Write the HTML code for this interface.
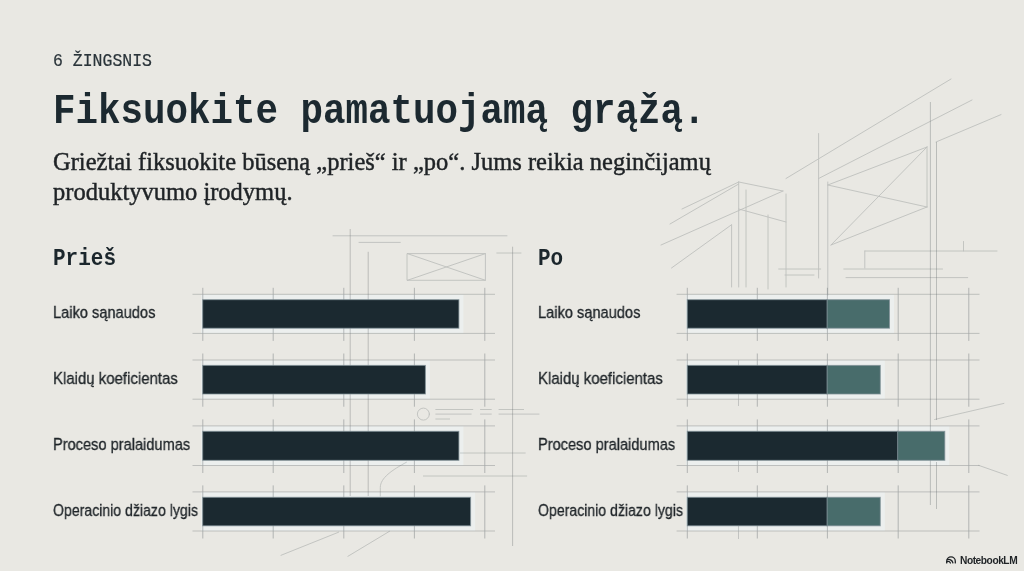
<!DOCTYPE html>
<html lang="lt">
<head>
<meta charset="utf-8">
<title>6 žingsnis</title>
<style>
  html, body { margin: 0; padding: 0; }
  body {
    width: 1024px; height: 571px; overflow: hidden; position: relative;
    background: #e9e8e3;
    font-family: "Liberation Sans", sans-serif;
    color: #1d2a31;
  }
  #bg { position: absolute; left: 0; top: 0; width: 1024px; height: 571px; }
  .t { position: absolute; white-space: nowrap; transform-origin: 0 0; line-height: 1; will-change: transform; }
  .step { left: 52.5px; top: 51.8px; font-family: "Liberation Mono", monospace; font-size: 16.5px; color: #2a343a; transform: scaleY(1.15); -webkit-text-stroke: 0.2px #2a343a; }
  .title { left: 53px; top: 90.7px; font-family: "Liberation Mono", monospace; font-weight: bold; font-size: 37.5px; color: #1c2930; transform: scaleY(1.13); }
  .para { left: 53px; font-family: "Liberation Serif", serif; font-size: 24.5px; color: #1f2326; transform: scaleY(1.04); -webkit-text-stroke: 0.45px #1f2326; }
  .p1 { top: 149.4px; }
  .p2 { top: 179.4px; }
  .h { font-family: "Liberation Mono", monospace; font-weight: bold; font-size: 21px; color: #1b262c; top: 246.6px; transform: scaleY(1.13); }
  .lab { font-family: "Liberation Sans", sans-serif; font-size: 16.8px; color: #20262a; -webkit-text-stroke: 0.3px #20262a; }
  .l1 { transform: scaleX(0.871); } .l2 { transform: scaleX(0.892); } .l3 { transform: scaleX(0.870); } .l4 { transform: scaleX(0.840); }
  .nb { left: 959.5px; top: 556.1px; font-family: "Liberation Sans", sans-serif; font-weight: bold; font-size: 10.2px; color: #1f2326; letter-spacing: -0.45px; }
</style>
</head>
<body>
<svg id="bg" viewBox="0 0 1024 571">
<g fill="#ecefee">
<rect x="201.2" y="294.7" width="262.2" height="38.5"/>
<rect x="201.2" y="360.4" width="228.7" height="38.6"/>
<rect x="201.2" y="426.3" width="262.2" height="39.0"/>
<rect x="201.2" y="492.3" width="273.9" height="38.5"/>
<rect x="685.8" y="294.7" width="208.2" height="38.5"/>
<rect x="685.8" y="360.4" width="199.0" height="38.6"/>
<rect x="685.8" y="426.3" width="263.5" height="39.0"/>
<rect x="685.8" y="492.3" width="199.0" height="38.5"/>
</g>
<g fill="none" stroke="#5e6669" stroke-width="0.8" opacity="0.5">
<path d="M192.5 294.3H495M192.5 333.4H495" opacity="0.8"/>
<path d="M202.8 287.8V340.9M273.2 287.8V340.9M343.8 287.8V340.9M414.4 287.8V340.9M484.8 287.8V340.9"/>
<path d="M192.5 360.0H495M192.5 399.2H495" opacity="0.8"/>
<path d="M202.8 353.5V406.7M273.2 353.5V406.7M343.8 353.5V406.7M414.4 353.5V406.7M484.8 353.5V406.7"/>
<path d="M192.5 425.9H495M192.5 465.5H495" opacity="0.8"/>
<path d="M202.8 419.4V473.0M273.2 419.4V473.0M343.8 419.4V473.0M414.4 419.4V473.0M484.8 419.4V473.0"/>
<path d="M192.5 491.9H495M192.5 531.0H495" opacity="0.8"/>
<path d="M202.8 485.4V538.5M273.2 485.4V538.5M343.8 485.4V538.5M414.4 485.4V538.5M484.8 485.4V538.5"/>
<path d="M676.6 294.3H979.5M676.6 333.4H979.5" opacity="0.8"/>
<path d="M687.3 287.8V340.9M757.3 287.8V340.9M827.4 287.8V340.9M898.2 287.8V340.9M968.8 287.8V340.9"/>
<path d="M676.6 360.0H979.5M676.6 399.2H979.5" opacity="0.8"/>
<path d="M687.3 353.5V406.7M757.3 353.5V406.7M827.4 353.5V406.7M898.2 353.5V406.7M968.8 353.5V406.7"/>
<path d="M676.6 425.9H979.5M676.6 465.5H979.5" opacity="0.8"/>
<path d="M687.3 419.4V473.0M757.3 419.4V473.0M827.4 419.4V473.0M898.2 419.4V473.0M968.8 419.4V473.0"/>
<path d="M676.6 491.9H979.5M676.6 531.0H979.5" opacity="0.8"/>
<path d="M687.3 485.4V538.5M757.3 485.4V538.5M827.4 485.4V538.5M898.2 485.4V538.5M968.8 485.4V538.5"/>
<path d="M738.5 360V366M738.5 394V406M738.5 460.5V472M738.5 526V539" opacity="0.7"/>
</g>
<g fill="none" stroke="#5e6669" stroke-width="0.9" stroke-linecap="round" opacity="0.3">
<path d="M786 178.5L951 79"/>
<path d="M818.6 178.5L972 100"/>
<path d="M936 142L1001 114.6"/>
<path d="M818.6 133.5L818.6 278"/>
<path d="M827.8 182L827.8 295"/>
<path d="M827.8 185L927 147"/>
<path d="M927 147L927 207"/>
<path d="M927 207L831 245"/>
<path d="M827.8 185L927 207"/>
<path d="M927 147L831 245"/>
<path d="M682 209L738.7 182"/>
<path d="M670 224L738.7 184"/>
<path d="M738.7 182L783 191"/>
<path d="M661 245L783 191"/>
<path d="M738.7 209L786 222"/>
<path d="M671.5 268L731.6 224.7"/>
<path d="M738.7 182L738.7 287"/>
<path d="M746 190L746 287"/>
<path d="M731.6 225L731.6 287"/>
<path d="M768 215L768 289"/>
<path d="M786 194L786 287"/>
<path d="M778.7 269L820.7 269"/>
<path d="M785 275L814 275"/>
<path d="M843.8 269L942.5 269"/>
<path d="M846 277.6L967.7 277.6"/>
<path d="M864.8 251L997 251"/>
<path d="M864.8 251L864.8 268"/>
<path d="M963.5 241.5L963.5 251"/>
<path d="M934.6 419.5L1003.9 403.4"/>
<path d="M978.8 465.4L1007.3 475.4"/>
<path d="M333 235.8L507 235.8"/>
<path d="M359 242.4L400.3 242.4"/>
<path d="M407.4 253.6H485.4V280.3H407.4ZM407.4 253.6L485.4 280.3M485.4 253.6L407.4 280.3"/>
<path d="M496.8 253L521 253"/>
<circle cx="423.4" cy="414.1" r="6"/>
<path d="M435.8 409.5H472.8M480.5 409.5H491.3M499 409.5H523.6M435.8 414.1H471.2M480.5 414.1H491.3M499 414.1H539M435.8 419H449.6"/>
<path d="M460.4 453L525.2 453"/>
<path d="M423.4 476L526.7 476"/>
<path d="M406.5 462.2C392 470 380.3 478 380.3 487.5V496"/>
<path d="M281 555.3L338.6 532.2"/>
<path d="M347.9 556.3L389.5 531.3"/>
</g>
<g fill="none" stroke="#5e6669" stroke-width="0.85" opacity="0.4">
<path d="M930.4 102V505M936.5 142V420M936.5 462V509M350.2 229V496M368.2 251.8V496M512.6 246.7V546"/>
</g>
<g stroke="#7f9097" stroke-width="1" stroke-opacity="0.75" style="filter:blur(0.35px)">
<rect x="202.7" y="299.7" width="256.2" height="28.5" fill="#1b2930"/>
<rect x="202.7" y="365.4" width="222.7" height="28.6" fill="#1b2930"/>
<rect x="202.7" y="431.3" width="256.2" height="29.0" fill="#1b2930"/>
<rect x="202.7" y="497.3" width="267.9" height="28.5" fill="#1b2930"/>
<rect x="827.0" y="299.7" width="62.5" height="28.5" fill="#486c6b"/>
<rect x="687.3" y="299.7" width="139.7" height="28.5" fill="#1b2930"/>
<rect x="827.0" y="365.4" width="53.3" height="28.6" fill="#486c6b"/>
<rect x="687.3" y="365.4" width="139.7" height="28.6" fill="#1b2930"/>
<rect x="897.6" y="431.3" width="47.2" height="29.0" fill="#486c6b"/>
<rect x="687.3" y="431.3" width="210.3" height="29.0" fill="#1b2930"/>
<rect x="827.0" y="497.3" width="53.3" height="28.5" fill="#486c6b"/>
<rect x="687.3" y="497.3" width="139.7" height="28.5" fill="#1b2930"/>
</g>
<g fill="none" stroke="#1f2326" stroke-width="1.3" stroke-linecap="round">
<path d="M946.7 562.9v-1.7a4.3 4.3 0 0 1 8.6 0v1.7"/>
<path d="M947.6 559.6a4.3 4.3 0 0 1 5.3 3.3"/>
<path d="M947.2 561.6a2.6 2.6 0 0 1 3.2 1.4"/>
</g>
</svg>

<div class="t step">6 ŽINGSNIS</div>
<div class="t title">Fiksuokite pamatuojamą grąžą.</div>
<div class="t para p1">Griežtai fiksuokite būseną „prieš“ ir „po“. Jums reikia neginčijamų</div>
<div class="t para p2">produktyvumo įrodymų.</div>

<div class="t h" style="left:53px">Prieš</div>
<div class="t h" style="left:538px">Po</div>

<div class="t lab l1" style="left:53px;top:305.4px">Laiko sąnaudos</div>
<div class="t lab l2" style="left:53px;top:371.1px">Klaidų koeficientas</div>
<div class="t lab l3" style="left:53px;top:436.9px">Proceso pralaidumas</div>
<div class="t lab l4" style="left:53px;top:502.5px">Operacinio džiazo lygis</div>
<div class="t lab l1" style="left:537.5px;top:305.4px">Laiko sąnaudos</div>
<div class="t lab l2" style="left:537.5px;top:371.1px">Klaidų koeficientas</div>
<div class="t lab l3" style="left:537.5px;top:436.9px">Proceso pralaidumas</div>
<div class="t lab l4" style="left:537.5px;top:502.5px">Operacinio džiazo lygis</div>

<div class="t nb">NotebookLM</div>
</body>
</html>
